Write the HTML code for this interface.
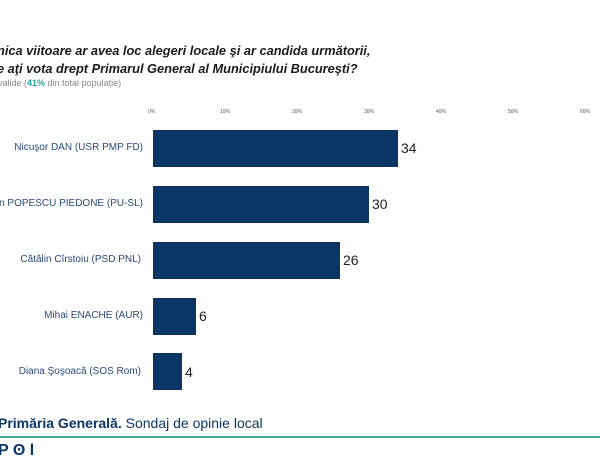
<!DOCTYPE html>
<html><head><meta charset="utf-8"><style>
body{margin:0;width:600px;height:450px;overflow:hidden;background:#fff;font-family:"Liberation Sans",sans-serif;position:relative}
.a{position:absolute;white-space:nowrap}
.t{font-weight:bold;font-style:italic;font-size:12.8px;color:#1a1a1a}
.tk{font-size:5px;color:#555;top:109px}
.lb{font-size:10px;color:#2a4a7a;right:457px;text-align:right}
.bar{position:absolute;left:153px;height:37px;background:#0b3565}
.v{font-size:14px;color:#222}
</style></head><body>
<div class="a t" style="left:-3px;top:43px">nica viitoare ar avea loc alegeri locale şi ar candida următorii,</div>
<div class="a t" style="left:-3px;top:61px">e aţi vota drept Primarul General al Municipiului Bucureşti?</div>
<div class="a" style="left:-2px;top:78px;font-size:9px;color:#888">valide (<b style="color:#2aa39b">41%</b> din total populaţie)</div>
<div class="a tk" style="left:148px">0%</div>
<div class="a tk" style="left:220px">10%</div>
<div class="a tk" style="left:292px">20%</div>
<div class="a tk" style="left:364px">30%</div>
<div class="a tk" style="left:436px">40%</div>
<div class="a tk" style="left:508px">50%</div>
<div class="a tk" style="left:580px">60%</div>

<div class="a lb" style="top:142px">Nicuşor DAN (USR PMP FD)</div>
<div class="bar" style="top:130px;width:245px"></div>
<div class="a v" style="left:401px;top:140px">34</div>

<div class="a lb" style="top:198px">an POPESCU PIEDONE (PU-SL)</div>
<div class="bar" style="top:186px;width:216px"></div>
<div class="a v" style="left:372px;top:196px">30</div>

<div class="a lb" style="top:254px;right:459px">Cătălin Cîrstoiu (PSD PNL)</div>
<div class="bar" style="top:242px;width:187px"></div>
<div class="a v" style="left:343px;top:252px">26</div>

<div class="a lb" style="top:310px">Mihai ENACHE (AUR)</div>
<div class="bar" style="top:298px;width:43px"></div>
<div class="a v" style="left:199px;top:308px">6</div>

<div class="a lb" style="top:366px;right:459px">Diana Şoşoacă (SOS Rom)</div>
<div class="bar" style="top:353px;width:29px"></div>
<div class="a v" style="left:185px;top:364px">4</div>

<div class="a" style="left:-2px;top:415px;font-size:14px;color:#0b3565"><b>Primăria Generală.</b> Sondaj de opinie local</div>
<div class="a" style="left:0;top:436px;width:600px;height:2px;background:#4aaaa6"></div>
<div class="a" style="left:-2px;top:442px;font-size:16px;font-weight:bold;color:#0b3565">P ʘ l</div>
</body></html>
